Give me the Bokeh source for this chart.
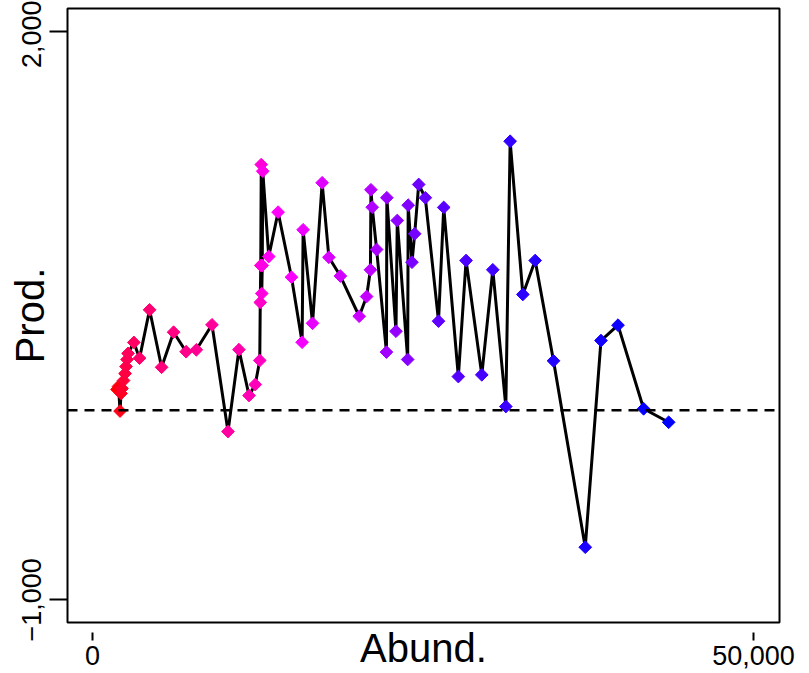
import colorsys
import math
from bokeh.plotting import figure
from bokeh.models import Span, FixedTicker, Range1d
from bokeh.embed import file_html
from bokeh.resources import INLINE

# ---- data ----
abund = [1856, 1970, 2083, 2159, 2235, 2348, 2462, 2538, 2614, 2689, 3129, 3561,
         4318, 5227, 6136, 7083, 7856, 9038, 10250, 11076, 11841, 12311,
         12652, 12689, 12727, 12765, 12803, 12841, 12879,
         13333, 14038, 15053, 15856, 15932, 16644, 17371, 17879, 18750,
         20174, 20735, 21023, 21061, 21159, 21492, 22235, 22265, 22955, 23053,
         23841, 23879, 24167, 24371, 24674, 25174, 26174, 26568,
         27674, 28258, 29447, 30280, 31265, 31591, 32553, 33485, 34871,
         37273, 38462, 39750, 41689, 43583]
prod = [110, 126, -4, 89, 115, 157, 194, 231, 268, 300, 358, 275,
        530, 227, 412, 309, 319, 451, -112, 320, 78, 136,
        263, 569, 764, 1296, 616, 764, 1261,
        811, 1045, 702, 359, 952, 459, 1200, 807, 708,
        496, 600, 741, 1163, 1071, 848, 307, 1121, 417, 1001,
        268, 1082, 781, 931, 1191, 1121, 470, 1070,
        178, 790, 187, 741, 20, 1419, 611, 790, 261,
        -722, 368, 449, 8, -63]
x_ticks = [0, 50000]
x_tick_labels = ["0", "50,000"]
y_ticks = [-1000, 2000]
y_tick_labels = ["\u22121,000", "2,000"]
x_label = "Abund."
y_label = "Prod."
ref_level = 0

# colour ramp red -> magenta -> blue along the ordered points
n = len(abund)
colors = []
for i in range(n):
    t = (i / (n - 1)) ** 0.85
    h = ((360 - 120 * t) / 360.0) % 1.0
    r, g, b = colorsys.hsv_to_rgb(h, 1, 1)
    colors.append("#%02x%02x%02x" % (int(round(r * 255)), int(round(g * 255)), int(round(b * 255))))

FONT = "Liberation Sans"

p = figure(width=809, height=673,
           x_range=Range1d(-1891, 51966), y_range=Range1d(-1119, 2119),
           output_backend="svg", toolbar_location=None,
           min_border_left=67, min_border_right=30, min_border_top=8, min_border_bottom=51)
p.background_fill_color = "white"
p.border_fill_color = "white"
p.outline_line_color = "black"
p.outline_line_width = 2
p.grid.visible = False

# axes
p.xaxis.ticker = FixedTicker(ticks=x_ticks)
p.xaxis.major_label_overrides = {float(k): v for k, v in zip(x_ticks, x_tick_labels)}
p.yaxis.ticker = FixedTicker(ticks=y_ticks)
p.yaxis.major_label_overrides = {float(k): v for k, v in zip(y_ticks, y_tick_labels)}
for ax in (p.xaxis[0], p.yaxis[0]):
    ax.axis_line_color = None
    ax.minor_tick_line_color = None
    ax.major_tick_line_color = "black"
    ax.major_tick_line_width = 2
    ax.major_label_text_font = FONT
    ax.major_label_text_font_size = "27px"
    ax.major_label_text_color = "black"
    ax.axis_label_text_font = FONT
    ax.axis_label_text_font_size = "40px"
    ax.axis_label_text_font_style = "normal"
    ax.axis_label_text_color = "black"
p.xaxis.major_tick_in = -10
p.xaxis.major_tick_out = 18
p.xaxis.major_label_standoff = 5
p.yaxis.major_tick_in = 0
p.yaxis.major_tick_out = 18
p.yaxis.major_label_standoff = 8
p.yaxis.major_label_orientation = "vertical"
p.xaxis.axis_label = x_label
p.xaxis.axis_label_standoff = -42
p.yaxis.axis_label = y_label
p.yaxis.axis_label_standoff = -32

# reference line
p.add_layout(Span(location=ref_level, dimension="width", line_color="black",
                  line_width=2.5, line_dash="10 7"))

# series
p.line(abund, prod, line_color="black", line_width=3)
p.scatter(abund, prod, marker="square", angle=math.pi / 4, size=9,
          fill_color=colors, line_color=colors, line_width=1)

open("out.html", "w").write(file_html(p, INLINE))
